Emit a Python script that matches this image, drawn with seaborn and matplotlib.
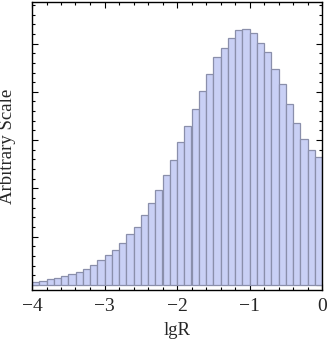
import numpy as np
import pandas as pd
import matplotlib
matplotlib.use("Agg")
import matplotlib.pyplot as plt
from matplotlib.ticker import MultipleLocator
import seaborn as sns

# Data (bins of width 0.1 from -4 to 0)
bin_edges = [round(-4 + 0.1 * i, 1) for i in range(41)]
heights = [0.072, 0.093, 0.12, 0.155, 0.186, 0.228, 0.269, 0.331, 0.414, 0.511,
           0.617, 0.731, 0.863, 1.046, 1.211, 1.455, 1.692, 1.973, 2.271, 2.582,
           2.954, 3.292, 3.638, 4.017, 4.364, 4.714, 4.901, 5.118, 5.275, 5.294,
           5.228, 5.017, 4.818, 4.478, 4.157, 3.741, 3.358, 3.019, 2.795, 2.646]
x_ticks = [-4, -3, -2, -1, 0]
x_ticklabels = ["\u22124", "\u22123", "\u22122", "\u22121", "0"]

centers = [(bin_edges[i] + bin_edges[i + 1]) / 2 for i in range(len(heights))]
df = pd.DataFrame({"lgR": centers, "w": heights})

sns.set_style("ticks")
plt.rcParams["font.family"] = ["Liberation Serif", "DejaVu Serif"]

fig = plt.figure(figsize=(3.27, 3.43), dpi=100)
ax = fig.add_axes([32 / 327, 1 - 290 / 343, 290 / 327, 288 / 343])

sns.histplot(data=df, x="lgR", weights="w", bins=bin_edges, ax=ax,
             color="#c9d0f5", alpha=1.0, edgecolor="#8a8fab", linewidth=0.9)

ax.set_xlim(-4, 0)
ax.set_ylim(-0.1035, 5.86)
ax.set_xticks(x_ticks)
ax.set_xticklabels(x_ticklabels)
ax.xaxis.set_minor_locator(MultipleLocator(0.2))
ax.yaxis.set_major_locator(MultipleLocator(1.0))
ax.yaxis.set_minor_locator(MultipleLocator(0.2))
ax.set_yticklabels([])
ax.tick_params(which="both", direction="in", top=True, right=True,
               labelsize=14, color="black", width=0.8)
ax.tick_params(which="major", length=4)
ax.tick_params(which="minor", length=2)
ax.tick_params(axis="x", pad=6)
for s in ax.spines.values():
    s.set_linewidth(1.0)
    s.set_color("black")
ax.set_xlabel("lgR", fontsize=13.5, labelpad=5)
ax.set_ylabel("Arbitrary Scale", fontsize=13.5, labelpad=8)

fig.savefig("out.png", dpi=100)
